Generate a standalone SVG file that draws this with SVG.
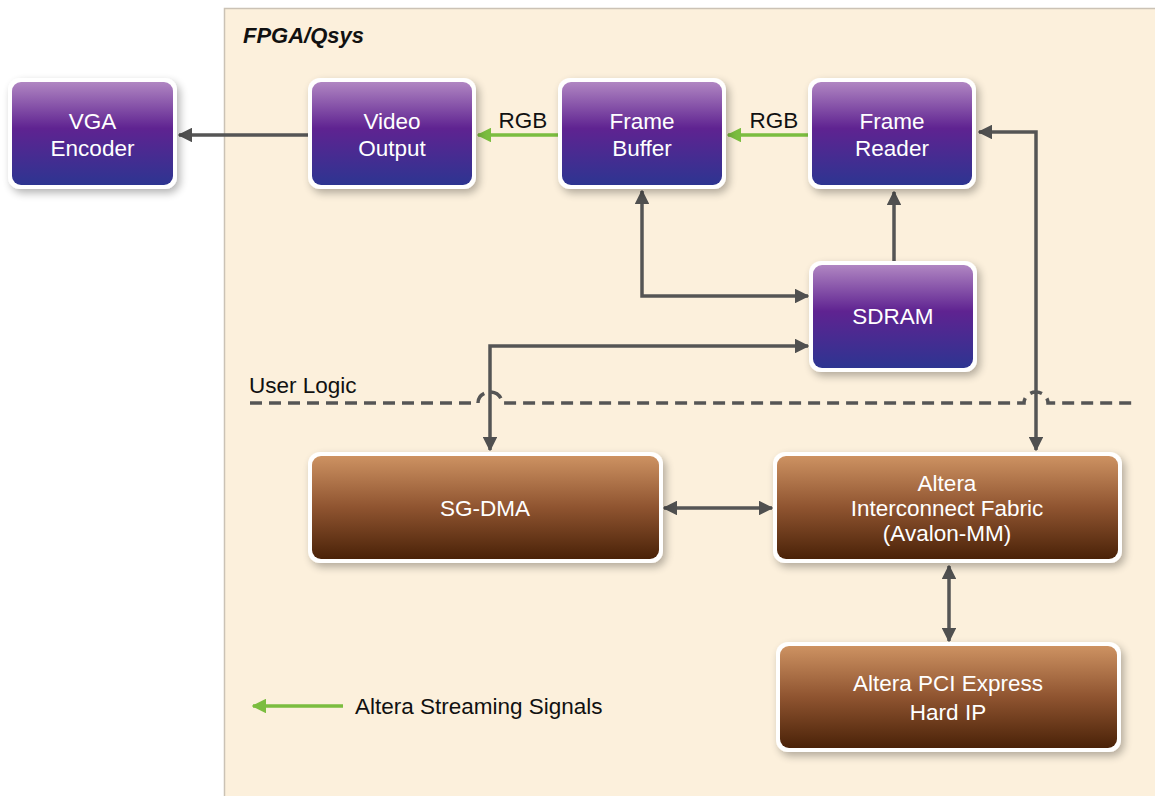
<svg xmlns="http://www.w3.org/2000/svg" width="1155" height="796" viewBox="0 0 1155 796">
<defs>
<linearGradient id="gp" x1="0" y1="0" x2="0" y2="1">
<stop offset="0" stop-color="#b086c2"/>
<stop offset="0.45" stop-color="#5f2391"/>
<stop offset="1" stop-color="#2d3591"/>
</linearGradient>
<linearGradient id="gb" x1="0" y1="0" x2="0" y2="1">
<stop offset="0" stop-color="#cd9262"/>
<stop offset="0.5" stop-color="#8f5430"/>
<stop offset="1" stop-color="#4a2208"/>
</linearGradient>
<filter id="sh" x="-10%" y="-15%" width="125%" height="140%">
<feGaussianBlur in="SourceAlpha" stdDeviation="4"/>
<feOffset dx="3" dy="4"/>
<feComponentTransfer><feFuncA type="linear" slope="0.3"/></feComponentTransfer>
<feMerge><feMergeNode/><feMergeNode in="SourceGraphic"/></feMerge>
</filter>
<marker id="ag" viewBox="0 0 10 10" refX="9" refY="5" markerWidth="4.2" markerHeight="4.2" orient="auto-start-reverse" markerUnits="strokeWidth">
<path d="M0,0 L10,5 L0,10 z" fill="#505050"/>
</marker>
<marker id="agr" viewBox="0 0 10 10" refX="9" refY="5" markerWidth="4.2" markerHeight="4.2" orient="auto-start-reverse" markerUnits="strokeWidth">
<path d="M0,0 L10,5 L0,10 z" fill="#7bbd3f"/>
</marker>
<style>
.outer{fill:#ffffff;filter:url(#sh)}
.p{fill:url(#gp)}
.b{fill:url(#gb)}
.t{font-family:"Liberation Sans",Arial,sans-serif;font-size:22.5px;fill:#ffffff;text-anchor:middle}
.lbl{font-family:"Liberation Sans",Arial,sans-serif;font-size:22.5px;fill:#111111}
.c{fill:none;stroke:#555555;stroke-width:3.5}
.g{fill:none;stroke:#7bbd3f;stroke-width:3.5}
</style>
</defs>
<rect x="0" y="0" width="1155" height="796" fill="#ffffff"/>
<g id="panel">
<rect x="224.5" y="8.5" width="940" height="800" fill="#fcf0dc" stroke="#cbc2b5" stroke-width="1.5"/>
<text x="243" y="43" font-family="Liberation Sans,Arial,sans-serif" font-size="22" font-weight="bold" font-style="italic" fill="#111">FPGA/Qsys</text>
<text x="249" y="393" class="lbl" font-size="21.5">User Logic</text>
<path d="M250,403 H478 A12,11 0 0 1 502,403 H1024 A12,11 0 0 1 1048,403 H1132" fill="none" stroke="#555555" stroke-width="3.5" stroke-dasharray="12,7"/>
</g>
<g id="connectors">
<line class="c" x1="308" y1="135" x2="179" y2="135" marker-end="url(#ag)"/>
<line class="g" x1="558" y1="135" x2="478" y2="135" marker-end="url(#agr)"/>
<text x="523" y="128" class="lbl" text-anchor="middle">RGB</text>
<line class="g" x1="808" y1="135" x2="728" y2="135" marker-end="url(#agr)"/>
<text x="774" y="128" class="lbl" text-anchor="middle">RGB</text>
<path class="c" d="M979,132 H1036 V450" marker-start="url(#ag)" marker-end="url(#ag)"/>
<line class="c" x1="894" y1="262" x2="894" y2="192" marker-end="url(#ag)"/>
<path class="c" d="M642,191 V296 H808" marker-start="url(#ag)" marker-end="url(#ag)"/>
<path class="c" d="M808,346 H490 V450" marker-start="url(#ag)" marker-end="url(#ag)"/>
<line class="c" x1="664" y1="508" x2="772" y2="508" marker-start="url(#ag)" marker-end="url(#ag)"/>
<line class="c" x1="949" y1="566" x2="949" y2="641" marker-start="url(#ag)" marker-end="url(#ag)"/>
<line class="g" x1="343" y1="706" x2="253" y2="706" marker-end="url(#agr)"/>
</g>
<g id="legend">
<text x="355" y="714" class="lbl">Altera Streaming Signals</text>
</g>
<g id="vga">
<rect class="outer" x="8" y="78" width="169" height="111" rx="12"/>
<rect class="p" x="12" y="82" width="161" height="103" rx="9"/>
<text class="t" x="92.5" y="129">VGA</text>
<text class="t" x="92.5" y="156">Encoder</text>
</g>
<g id="video-output">
<rect class="outer" x="308" y="78" width="168" height="111" rx="12"/>
<rect class="p" x="312" y="82" width="160" height="103" rx="9"/>
<text class="t" x="392" y="129">Video</text>
<text class="t" x="392" y="156">Output</text>
</g>
<g id="frame-buffer">
<rect class="outer" x="558" y="78" width="168" height="111" rx="12"/>
<rect class="p" x="562" y="82" width="160" height="103" rx="9"/>
<text class="t" x="642" y="129">Frame</text>
<text class="t" x="642" y="156">Buffer</text>
</g>
<g id="frame-reader">
<rect class="outer" x="808" y="78" width="168" height="111" rx="12"/>
<rect class="p" x="812" y="82" width="160" height="103" rx="9"/>
<text class="t" x="892" y="129">Frame</text>
<text class="t" x="892" y="156">Reader</text>
</g>
<g id="sdram">
<rect class="outer" x="809" y="261" width="168" height="111" rx="12"/>
<rect class="p" x="813" y="265" width="160" height="103" rx="9"/>
<text class="t" x="893" y="324">SDRAM</text>
</g>
<g id="sg-dma">
<rect class="outer" x="308" y="452" width="355" height="111" rx="12"/>
<rect class="b" x="312" y="456" width="347" height="103" rx="9"/>
<text class="t" x="485" y="516">SG-DMA</text>
</g>
<g id="interconnect">
<rect class="outer" x="773" y="452" width="349" height="111" rx="12"/>
<rect class="b" x="777" y="456" width="341" height="103" rx="9"/>
<text class="t" x="947" y="491">Altera</text>
<text class="t" x="947" y="516">Interconnect Fabric</text>
<text class="t" x="947" y="541">(Avalon-MM)</text>
</g>
<g id="pcie">
<rect class="outer" x="776" y="642" width="345" height="110" rx="12"/>
<rect class="b" x="780" y="646" width="337" height="102" rx="9"/>
<text class="t" x="948" y="691">Altera PCI Express</text>
<text class="t" x="948" y="720">Hard IP</text>
</g>
</svg>
